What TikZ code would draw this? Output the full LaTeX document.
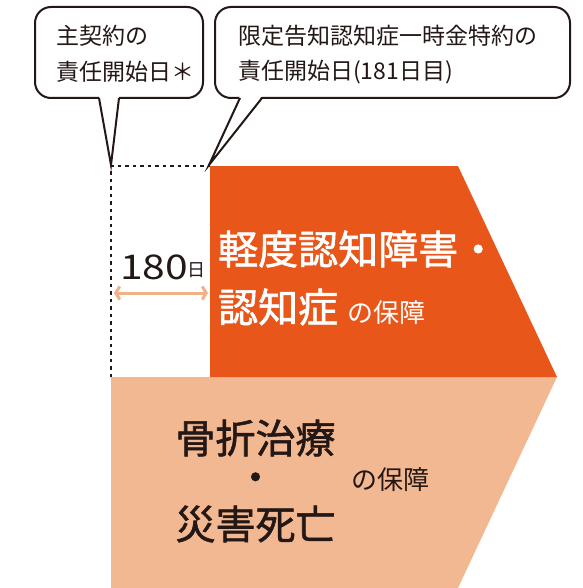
\documentclass[tikz,border=0pt]{standalone}
\usepackage{fontspec}
\usepackage{graphicx}
\setmainfont{Noto Sans CJK JP}
\newfontfamily\medfont{Noto Sans CJK JP}[FakeBold=1.4]
\usetikzlibrary{arrows.meta}
\definecolor{orng}{HTML}{E9561A}
\definecolor{peach}{HTML}{F2B892}
\definecolor{peacharrow}{HTML}{F0B089}
\definecolor{ink}{HTML}{231815}
\newcommand\fsz[1]{\fontsize{#1pt}{#1pt}\selectfont}
\tikzset{
  bubble/.style={draw=ink, line width=2pt, rounded corners=16pt, fill=white, inner sep=0pt},
  tailline/.style={draw=ink, line width=2pt, line join=miter},
  txt/.style={inner sep=0pt, text=ink},
  wtxt/.style={inner sep=0pt, text=white},
  dotline/.style={draw=ink, line width=2pt, dash pattern=on 3.5pt off 4pt},
  spanarrow/.style={draw=peacharrow, line width=3pt, {Straight Barb[length=4pt,width=13pt]}-{Straight Barb[length=4pt,width=13pt]}},
}
\begin{document}
\begin{tikzpicture}[x=1pt,y=-1pt]
\useasboundingbox (0,0) rectangle (582,588);
% shapes
\fill[peach] (111,377) -- (557,377) -- (458,588) -- (111,588) -- cycle;
\fill[orng] (210,166) -- (458,166) -- (557,377) -- (210,377) -- cycle;
% dotted guide lines
\coordinate (g1) at (111,166);
\coordinate (g2) at (210,166);
\coordinate (g3) at (111,377);
\draw[dotline] (g3) -- (g1) -- (g2);
% callout 1
\node[bubble, minimum width=168pt, minimum height=91pt] (b1) at (119,52.5) {};
\coordinate (b1l) at (99,98);
\coordinate (b1r) at (119,98);
\coordinate (t1) at (111,165);
\fill[white] ([yshift=2pt]b1l) -- (t1) -- ([yshift=2pt]b1r) -- cycle;
\draw[tailline] (b1l) -- (t1) -- (b1r);
\node[txt, anchor=west, font=\fsz{23}] (c1a) at (56,36) {主契約の};
\node[txt, anchor=west, font=\fsz{23}] (c1b) at (56,72) {責任開始日＊};
% callout 2
\node[bubble, minimum width=355pt, minimum height=91pt] (b2) at (392.5,52.5) {};
\coordinate (b2l) at (240,98);
\coordinate (b2r) at (262,98);
\coordinate (t2) at (209,165);
\fill[white] ([yshift=2pt]b2l) -- (t2) -- ([yshift=2pt]b2r) -- cycle;
\draw[tailline] (b2l) -- (t2) -- (b2r);
\node[txt, anchor=west, font=\fsz{23}] (c2a) at (238,36) {限定告知認知症一時金特約の};
\node[txt, anchor=west, font=\fsz{23}] (c2b) at (238,72) {責任開始日(181日目)};
% 180 days
\node[txt, anchor=west, font=\fsz{34}] (d180) at (120,267) {\scalebox{1.2}[1]{180}};
\node[txt, anchor=west, font=\fsz{18}] (dday) at (187,270) {日};
\coordinate (a1) at (114,293);
\coordinate (a2) at (208,293);
\draw[spanarrow] (a1) -- (a2);
% orange text
\node[wtxt, anchor=west, font=\fsz{40}\medfont] (o1) at (218,249) {軽度認知障害・};
\node[wtxt, anchor=west, font=\fsz{40}\medfont] (o2) at (218,307) {認知症\hspace{9pt}{\normalfont\fsz{26}の保障}};
% peach text
\node[txt, font=\fsz{40}\medfont] (p1) at (255.5,438) {骨折治療};
\node[txt, anchor=base, font=\fsz{40}\medfont] (p2) at (255.5,492) {\smash{・}};
\node[txt, font=\fsz{40}\medfont] (p3) at (255.5,524) {災害死亡};
\node[txt, anchor=west, font=\fsz{26}] (p4) at (351,480) {の保障};
\end{tikzpicture}
\end{document}
